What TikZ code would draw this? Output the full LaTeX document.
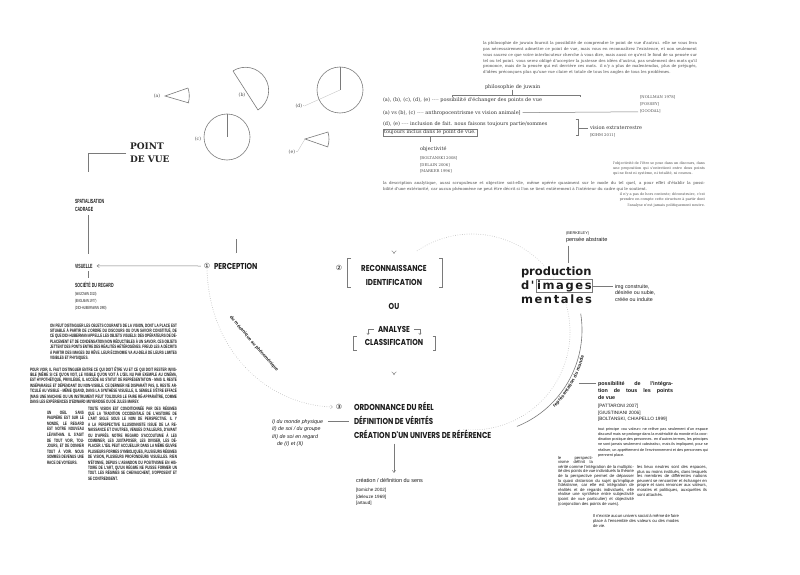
\documentclass[tikz,border=0pt]{standalone}
\usepackage{fontspec}
\setmainfont{DejaVu Serif}
\newfontfamily\slab{DejaVu Serif}
\newfontfamily\dvs{DejaVu Sans}
\newfontfamily\disp{Poppins}[FakeStretch=0.82]
\newfontfamily\cond{Liberation Sans}[FakeStretch=0.6]
\newfontfamily\condp{Liberation Sans}[FakeStretch=0.64]
\newfontfamily\lsans{Liberation Sans}
\newfontfamily\prodf{DejaVu Sans}
\newfontfamily\prodsp{DejaVu Sans}[LetterSpace=14]
\usetikzlibrary{arrows.meta,decorations.text}
\definecolor{ln}{HTML}{7A7A7A}
\definecolor{lt}{HTML}{C2C2C2}
\definecolor{tx}{HTML}{1C1C1C}
\definecolor{gt}{HTML}{4A4A4A}
\newcommand{\fsz}[2]{\fontsize{#1}{#2}\selectfont}
\newcommand{\parset}{\parindent=0pt\tolerance=9999\emergencystretch=4pt\hyphenpenalty=30\relax}
\begin{document}
\begin{tikzpicture}[x=1pt,y=-1pt,
  every node/.style={inner sep=0pt,outer sep=0pt,text=tx},
  conn/.style={draw=ln,line width=0.5pt},
  fig/.style={draw=ln,line width=0.6pt},
  faint/.style={draw=lt,line width=0.35pt},
  dotline/.style={draw=lt,line width=0.9pt,dash pattern=on 0.01pt off 2.3pt,line cap=round},
  dbl/.style={draw=ln,line width=0.45pt,double=white,double distance=1.3pt,-{Implies[]}},
  arr/.style={-{Straight Barb[length=2.2pt,width=3.2pt]}},
  lbl/.style={font=\slab\fsz{4.6}{5},text=gt},
  ctr/.style={font=\disp\bfseries\fsz{8.6}{10}},
  cnum/.style={font=\dvs\fsz{7}{8}},
  capl/.style={font=\cond\bfseries\fsz{6}{7},anchor=base west},
  capref/.style={font=\cond\fsz{4.4}{5},anchor=base west},
  topt/.style={font=\slab\fsz{5}{6},anchor=base west,text=gt!70!black},
  tinyref/.style={font=\slab\fsz{3.8}{4.5},anchor=base west,text=gt},
  lst/.style={font=\lsans\itshape\fsz{5.3}{6},anchor=base west},
  sml/.style={font=\lsans\fsz{5.4}{6},anchor=base west},
  blk/.style={anchor=base west},
  prod/.style={anchor=base west,fill=white},
]
\fill[white] (0,0) rectangle (800,575);
\useasboundingbox (0,0) rectangle (800,575);

% ---------- big dotted circle and representation arc
\draw[dotline] (472,332) ++(236:98) arc[start angle=236,end angle=455,radius=98];
\draw[conn,line width=0.6pt,postaction={decorate,decoration={text along path,
   text={|\lsans\bfseries\fsz{4.8}{5}|représentation du monde},text color=tx,
   raise=-5pt,text align=center}}]
   (478,330) ++(68:104) arc[start angle=68,end angle=-9,radius=104];

% ---------- top-left figures
\node[lbl] (la) at (157,96) {(a)};
\coordinate (ta) at (165,96);
\draw[fig] (188,88) -- (ta) -- (189,103);
\draw[fig] (ta) ++(-19:24.3) arc[start angle=-19,end angle=16,radius=24.3];

\node[lbl] (lb) at (242,95) {(b)};
\draw[fig] (233,71) -- (258,110) arc[start angle=57.3,end angle=-122.7,radius=23.2];

\node[lbl] (lc) at (198,139) {(c)};
\draw[fig] (227,137) circle[radius=23];
\draw[fig] (227,137) -- (227,114);

\node[lbl] (ld) at (300,106) {(d)\,·};
\coordinate (cd) at (340,90);
\draw[faint] (ld.east) -- (cd);
\draw[fig] (cd) circle[radius=23];
\draw[fig] (cd) -- (340,67);

\node[lbl] (le) at (293,152) {(e)\,·};
\coordinate (te) at (305,139);
\draw[faint] (le.east) -- (te);
\draw[fig] (328,132) -- (te) -- (328,147);
\draw[fig] (te) ++(-17:24) arc[start angle=-17,end angle=19,radius=24];

% ---------- point de vue / left column
\node[font=\slab\bfseries\fsz{9}{13},align=left,anchor=north west,text=black!85] (pdv) at (130,143) {POINT\\DE VUE};
\coordinate (k1) at (88,172);
\draw[conn] ([xshift=-4pt]pdv.west) -| (k1);

\node[capl] (spat) at (75,203) {SPATIALISATION};
\node[capl] (cadr) at (75,211) {CADRAGE};
\node[capl] (vis) at (75,268) {VISUELLE};
\node[capl] (soc) at (75,287) {SOCIÉTÉ DU REGARD};
\node[capref] (waj) at (75,295.5) {(WAJCMAN 2010)};
\node[capref] (eng) at (75,302.5) {(ENGLMAN 1977)};
\node[capref] (didi) at (75,309.5) {(DIDI-HUBERMANN 1990)};
\draw[conn] ([yshift=-4pt]cadr.south -| k1) -- ([yshift=10pt]vis.north -| k1);
\draw[conn] ([yshift=-3pt]vis.south -| k1) -- ([yshift=4pt]soc.north -| k1);

% ---------- left paragraphs
\node[blk] (p1) at (50,327) {\parbox[t]{127pt}{\condp\bfseries\fsz{4.8}{5.4}\parset
ON PEUT DISTINGUER LES OBJETS COURANTS DE LA VISION, DONT LA PLACE EST SITUABLE À PARTIR DE L'ORDRE DU DISCOURS OU D'UN SAVOIR CONSTITUÉ, DE CE QUE DIDI-HUBERMAN APPELLE LES OBJETS VISUELS: DES OPÉRATEURS DE DÉPLACEMENT ET DE CONDENSATION NON RÉDUCTIBLES À UN SAVOIR. CES OBJETS JETTENT DES PONTS ENTRE DES RÉALITÉS HÉTÉROGÈNES. FREUD LES A DÉCRITS À PARTIR DES IMAGES DU RÊVE. LEUR ÉCONOMIE VA AU-DELÀ DE LEURS LIMITES VISIBLES ET PHYSIQUES.}};
\node[blk] (p2) at (30,371) {\parbox[t]{147pt}{\condp\bfseries\fsz{4.8}{5.4}\parset
POUR VOIR, IL FAUT DISTINGUER ENTRE CE QUI DOIT ÊTRE VU ET CE QUI DOIT RESTER INVISIBLE (MÊME SI CE QU'ON VOIT, LE VISIBLE QU'ON VOIT À L'ŒIL NU PAR EXEMPLE AU CINÉMA, EST HYPOTHÉTIQUE, PRIVILÉGIÉ, IL ACCÈDE AU STATUT DE REPRÉSENTATION - MAIS IL RESTE INSÉPARABLE ET DÉPENDANT DU NON-VISIBLE. CE DERNIER NE DISPARAÎT PAS, IL RESTE ARTICULÉ AU VISIBLE - MÊME QUAND, DANS LA SYNTHÈSE VISUELLE, IL SEMBLE S'ÊTRE EFFACÉ (MAIS UNE MACHINE OU UN INSTRUMENT PEUT TOUJOURS LE FAIRE RÉ-APPARAÎTRE, COMME DANS LES EXPÉRIENCES D'EDWARD MUYBRIDGE OU DE JULES MAREY.}};
\node[blk] (p3) at (47,414) {\parbox[t]{37pt}{\condp\bfseries\fsz{4.8}{5.6}\parset
UN OEIL SANS PAUPIÈRE EST SUR LE MONDE, LE REGARD EST NOTRE NOUVEAU LÉVIATHAN. IL S'AGIT DE TOUT VOIR, TOUJOURS, ET DE DONNER TOUT À VOIR. NOUS SOMMES DEVENUS UNE RACE DE VOYEURS.}};
\node[blk] (p4) at (88,410) {\parbox[t]{89pt}{\condp\bfseries\fsz{4.8}{5.4}\parset
TOUTE VISION EST CONDITIONNÉE PAR DES RÉGIMES QUE LA TRADITION OCCIDENTALE DE L'HISTOIRE DE L'ART SIGLE SOUS LE NOM DE PERSPECTIVE. IL Y A LA PERSPECTIVE ILLUSIONNISTE ISSUE DE LA RENAISSANCE ET D'AUTRES, VENUES D'AILLEURS, D'AVANT OU D'APRÈS. NOTRE REGARD S'ACCOUTUME À LES COMBINER, LES JUXTAPOSER, LES DIVISER, LES DÉPLACER. L'ŒIL PEUT ACCUEILLIR DANS LA MÊME ŒUVRE PLUSIEURS FORMES SYMBOLIQUES, PLUSIEURS RÉGIMES DE VISION, PLUSIEURS PROFONDEURS VISUELLES. RIEN N'ÉTONNE, DEPUIS L'ABANDON DU POSITIVISME EN HISTOIRE DE L'ART, QU'UN RÉGIME NE PUISSE FORMER UN TOUT. LES RÉGIMES SE CHEVAUCHENT, S'OPPOSENT ET SE CONTREDISENT.}};

% ---------- central flow
\node[cnum] (n1) at (207,266) {①};
\node[ctr,anchor=base west] (perc) at (214,269.5) {PERCEPTION};
\draw[conn,arr] ([xshift=-3pt]n1.west) -- ([xshift=4pt]vis.east);

\node[cnum] (n2) at (339,268) {②};
\node[ctr] (reco) at (394,268) {RECONNAISSANCE};
\node[ctr] (iden) at (394,282) {IDENTIFICATION};
\draw[conn] (351,258) -- (347.5,258) -- (347.5,287) -- (351,287);
\draw[conn] (439,258) -- (442.5,258) -- (442.5,287) -- (439,287);
\draw[dbl] ([yshift=10pt]perc.north) |- ([yshift=27pt]reco.north) -- ([yshift=11pt]reco.north);

\node[ctr] (ou) at (394,306) {OU};
\node[ctr] (ana) at (394,329) {ANALYSE};
\node[ctr] (clas) at (394,342) {CLASSIFICATION};
\draw[conn] (356.5,336) -- (353.5,336) -- (353.5,350) -- (356.5,350);
\draw[conn] (432.5,336) -- (435.5,336) -- (435.5,350) -- (432.5,350);
\draw[conn,-{Straight Barb[length=1.6pt,width=2.6pt]}] ([xshift=-4pt]ana.west) -- ++(-6,0) -- ++(0,6);
\draw[conn,-{Straight Barb[length=1.6pt,width=2.6pt]}] ([xshift=4pt]ana.east) -- ++(6,0) -- ++(0,6);
\draw[dbl] ([yshift=-12pt]clas.south) -- ([yshift=-30pt]clas.south);

\node[cnum] (n3) at (339,407) {③};
\node[ctr,anchor=base west] (ord) at (354,410.5) {ORDONNANCE DU RÉEL};
\node[ctr,anchor=base west] (def) at (354,424.5) {DÉFINITION DE VÉRITÉS};
\node[ctr,anchor=base west,fill=white] (crea) at (354,438.5) {CRÉATION D'UN UNIVERS DE RÉFÉRENCE};

\draw[dotline,-{Straight Barb[length=2pt,width=3.6pt,line width=0.5pt,color=lt]}]
  (n1.south) .. controls (209,352) and (268,405) .. ([xshift=-3pt]n3.west);
\node[font=\lsans\bfseries\fsz{4.6}{5},rotate=-49] (mec) at (254,344) {du mécanique au phénoménique};

\node[lst] (l1) at (272,423) {I) du monde physique};
\node[lst] (l2) at (272,430.5) {II) de soi / du groupe};
\node[lst] (l3) at (272,438) {III) de soi en regard};
\node[lst] (l4) at (277,445.5) {de (I) et (II)};
\draw[conn,shorten <=5pt,shorten >=5pt] (l1.east) -- (l1.east -| def.west);

\node[sml,font=\lsans\fsz{5.5}{6}] (sens) at (356,482) {création / définition du sens};
\node[sml,font=\lsans\fsz{4.6}{5}] (tom) at (356,491) {[tomiche 2002]};
\node[sml,font=\lsans\fsz{4.6}{5}] (del) at (356,498) {[deleuze 1969]};
\node[sml,font=\lsans\fsz{4.6}{5}] (art) at (356,504.5) {[artaud]};
\draw[conn,arr] ([yshift=-5pt]crea.south -| clas.center) -- ([yshift=5pt]sens.north -| clas.center);

% ---------- production d'images mentales
\node[prod,font=\prodf\bfseries\fsz{11.5}{12}] (prod) at (521,275) {production};
\node[prod,font=\prodsp\bfseries\fsz{11.5}{12}] (dq) at (521,289) {d'};
\node[prod,font=\prodsp\bfseries\fsz{11.5}{12},draw=ln,line width=0.5pt,inner xsep=1pt,inner ysep=1pt] (img) at (536,289) {images};
\node[prod,font=\prodsp\bfseries\fsz{11.5}{12}] (ment) at (521,303) {mentales};

\node[font=\lsans\fsz{3.9}{4.5},anchor=base west] (berk) at (566,234) {(BERKELEY)};
\node[font=\lsans\fsz{5.6}{6},anchor=base west] (pens) at (566,241.5) {pensée abstraite};
\draw[conn,shorten >=3pt] ([xshift=2pt,yshift=-3pt]pens.south west) -- ([xshift=2pt]pens.south west |- prod.north);

\node[blk] (imgc) at (615,288) {\parbox[t]{60pt}{\lsans\fsz{5.3}{6.6}\raggedright img construite,\\désirée ou subie,\\créée ou induite}};
\draw[conn] (img.east) -- ([xshift=-2pt]imgc.west |- img.east);

% ---------- bottom right
\node[blk] (poss) at (598,385) {\parbox[t]{75pt}{\lsans\bfseries\fsz{5.4}{7}\parset possibilité de l'intégra-\linebreak tion de tous les points\linebreak de vue}};
\draw[conn] ([xshift=-2pt,yshift=-2.5pt]poss.north west) -- ++(-17,0);
\node[font=\lsans\fsz{4.7}{5},anchor=base west] (patt) at (598,407.5) {[PATTARONI 2007]};
\node[font=\lsans\fsz{4.7}{5},anchor=base west] (giu) at (598,414) {[GIUSTINIANI 2006]};
\node[font=\lsans\fsz{4.7}{5},anchor=base west] (bol2) at (598,420.5) {[BOLTANSKI, CHIAPELLO 1999]};

\node[blk] (tout) at (598,430) {\parbox[t]{110pt}{\lsans\fsz{3.8}{5.3}\parset
tout principe «ou valeur» ne relève pas seulement d'un espace discursif mais se prolonge dans la matérialité du monde et la coordination pratique des personnes. en d'autres termes, les principes ne sont jamais seulement «abstraits», mais ils impliquent, pour se réaliser, un apprêtement de l'environnement et des personnes qui prennent place.}};
\node[blk] (persp) at (558,459) {\parbox[t]{76pt}{\lsans\fsz{4.2}{4.6}\parset\parshape 3 0pt 35pt 0pt 35pt 0pt 76pt
le perspecti-\linebreak visme définit la\linebreak vérité comme l'intégration de la multiplicité des points de vue individuels la théorie de la perspective permet de dépasser la quasi distorsion du sujet qu'implique l'idéalisme, car elle est intégration de réalités et de regards individuels, elle réalise une synthèse entre subjectivité (point de vue particulier) et objectivité (conjonction des points de vues).}};
\node[blk] (lieux) at (637,468.5) {\parbox[t]{70pt}{\lsans\fsz{4.2}{4.6}\parset
les lieux neutres sont des espaces, plus ou moins institués, dans lesquels les membres de différentes nations peuvent se rencontrer et échanger en propre et sans renoncer aux valeurs, morales et politiques, auxquelles ils sont attachés.}};
\node[blk] (nex) at (593,517) {\parbox[t]{86pt}{\lsans\fsz{4.2}{5}\parset
Il n'existe aucun univers social à même de faire place à l'ensemble des valeurs ou des modes de vie.}};

% ---------- top right
\node[blk] (juw) at (483,41.5) {\parbox[t]{214pt}{\slab\fsz{4.0}{5.8}\parset\color{gt}
la philosophie de juwain fournit la possibilité de comprendre le point de vue d'autrui. elle ne vous fera pas nécessairement admettre ce point de vue, mais vous en reconnaîtrez l'existence, et non seulement vous saurez ce que votre interlocuteur cherche à vous dire, mais aussi ce qu'est le fond de sa pensée sur tel ou tel point. vous serez obligé d'accepter la justesse des idées d'autrui, pas seulement des mots qu'il prononce, mais de la pensée qui est derrière ces mots. il n'y a plus de malentendus, plus de préjugés, d'idées préconçues plus qu'une vue claire et totale de tous les angles de tous les problèmes.}};

\node[topt] (phil) at (485,88.5) {philosophie de juwain};
\draw[conn] (phil.south) -- ++(0,5.5);
\draw[conn] (452,97.5) -- (452,95) -- (580,95) -- (580,97.5);
\node[topt] (row1) at (383,102) {(a), (b), (c), (d), (e) {\color{ln}-{}-{}-{}-} possibilité d'échanger des points de vue};
\node[topt] (row2) at (383,114) {(a) vs (b), (c) {\color{ln}-{}-{}-{}-} anthropocentrisme vs vision animale]};
\node[tinyref] (noll) at (640,99) {[NOLLMAN 1978]};
\node[tinyref] (foss) at (640,106) {[FOSSEY]};
\node[tinyref] (good) at (640,113) {[GOODAL]};
\draw[conn] ([xshift=2pt]row2.east) -- ([xshift=-2pt]good.west);

\node[topt] (row3) at (383,125) {(d), (e) {\color{ln}-{}-{}-{}-} inclusion de fait. nous faisons toujours partie/sommes};
\node[topt,draw=ln,line width=0.4pt,inner xsep=1pt,inner ysep=1.2pt] (row4) at (383,134) {toujours inclus dans le point de vue.};
\draw[conn] (575.5,119.5) -- (578,119.5) -- (578,135.5) -- (575.5,135.5);
\node[topt] (vext) at (590,130) {vision extraterrestre};
\node[tinyref] (kihm) at (590,136.5) {[KIHM 2011]};
\draw[conn] ([xshift=-12pt]vext.west) -- ([xshift=-2pt]vext.west);
\draw[conn] (row4.south) -- ++(0,6);
\node[topt] (objt) at (420,150.5) {objectivité};
\node[tinyref] (bolt) at (420,160) {[BOLTANSKI 2008]};
\node[tinyref] (dela) at (420,166) {[DELAIN 2006]};
\node[tinyref] (mark) at (420,172) {[MARKER 1996]};

\node[blk] (lobj) at (613,161.5) {\parbox[t]{92pt}{\slab\fsz{3.5}{5.2}\parset\color{gt}
l'objectivité de l'être se pose dans un discours, dans une proposition qui s'entretient entre deux points qui ne font ni système, ni totalité, ni cosmos.}};
\node[blk] (desc) at (383,181) {\parbox[t]{322pt}{\slab\fsz{4.0}{5.8}\parset\color{gt}
la description analytique, aussi scrupuleuse et objective soit-elle, même opérée quasiment sur le mode du tel quel, a pour effet d'établir la possi-\linebreak bilité d'une extériorité, car aucun phénomène ne peut être décrit si l'on se tient entièrement à l'intérieur du cadre qui le soutient.}};
\node[blk] (ctx) at (613,193) {\parbox[t]{92pt}{\slab\fsz{3.5}{5.2}\parset\raggedleft\color{gt}
il n'y a pas de hors contexte; déconstruire, c'est prendre en compte cette structure à partir dont l'analyse n'est jamais politiquement neutre.}};
\end{tikzpicture}
\end{document}
